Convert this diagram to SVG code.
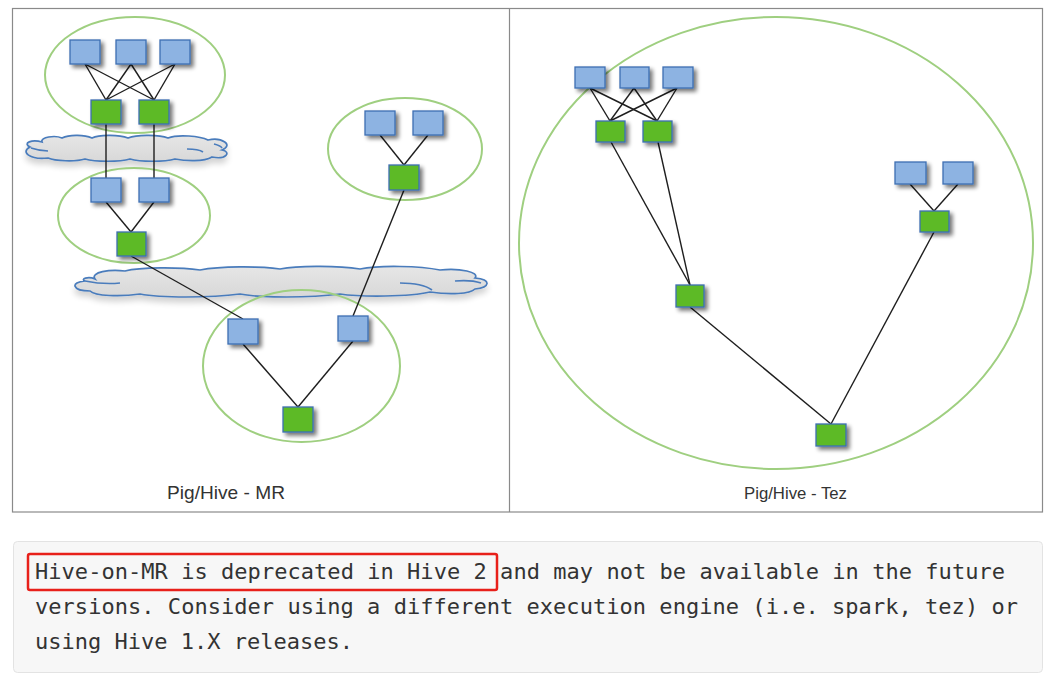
<svg xmlns="http://www.w3.org/2000/svg" width="1061" height="687" viewBox="0 0 1061 687">
<style>
.bg{fill:#ffffff}
.frame{fill:none;stroke:#8a8a8a;stroke-width:1.2}
.blue{fill:#8db3e2;stroke:#3d6fb2;stroke-width:1.3;filter:url(#sh)}
.green{fill:#5dba27;stroke:#3d6fb2;stroke-width:1.3;filter:url(#sh)}
.grp{fill:none;stroke:#9fcf80;stroke-width:2}
.cloud{fill:url(#cg);stroke:#4a7cbc;stroke-width:1.7;filter:url(#csh)}
.cin{fill:none;stroke:#4a7cbc;stroke-width:1.7}
.edge{fill:none;stroke:#1e1e1e;stroke-width:1.4}
.cap{font-family:"Liberation Sans",Arial,Helvetica,sans-serif;fill:#333333}
.note{font-family:"DejaVu Sans Mono","Liberation Mono",monospace;font-size:22px;fill:#333333}
</style>
<defs>
<linearGradient id="cg" x1="0" y1="0" x2="0" y2="1">
<stop offset="0" stop-color="#e6e6e6"/>
<stop offset="1" stop-color="#d8d8d8"/>
</linearGradient>
<filter id="sh" x="-30%" y="-30%" width="160%" height="170%">
<feGaussianBlur in="SourceAlpha" stdDeviation="2"/>
<feOffset dx="3" dy="3" result="o"/>
<feComponentTransfer><feFuncA type="linear" slope="0.55"/></feComponentTransfer>
<feMerge><feMergeNode/><feMergeNode in="SourceGraphic"/></feMerge>
</filter>
<filter id="csh" x="-10%" y="-40%" width="120%" height="200%">
<feGaussianBlur in="SourceAlpha" stdDeviation="3"/>
<feOffset dx="0" dy="5" result="o"/>
<feComponentTransfer><feFuncA type="linear" slope="0.18"/></feComponentTransfer>
<feMerge><feMergeNode/><feMergeNode in="SourceGraphic"/></feMerge>
</filter>
</defs>
<rect class="bg" x="0" y="0" width="1061" height="687"/>

<g id="frame">
<rect class="frame" x="12.5" y="8.5" width="1030" height="503.5"/>
<line class="frame" x1="509.5" y1="8.5" x2="509.5" y2="512"/>
</g>

<g id="clouds">
<g id="cloud1">
<path class="cloud" d="M 42 142 C 40 137, 55 135, 62 138 C 70 134, 85 135, 92 138 C 100 134, 120 135, 128 138 C 138 134, 160 135, 168 138 C 178 134, 200 136, 208 140 C 222 137, 234 145, 222 150 C 232 152, 226 160, 212 157 C 204 162, 185 161, 175 159 C 165 162, 140 162, 130 159 C 120 162, 95 162, 85 159 C 75 162, 55 161, 48 158 C 30 160, 20 152, 30 147 C 22 143, 32 139, 42 142 Z"/>
<path class="cin" d="M 31 148 C 37 150, 43 151, 48 151 M 187 149 C 194 149, 200 150, 203 152 M 214 144 C 218 145, 221 146, 222 148"/>
</g>
<g id="cloud2">
<path class="cloud" d="M 95 279 C 90 272, 110 269, 125 271 C 140 267, 180 267, 200 270 C 220 266, 260 266, 280 269 C 300 265, 340 266, 360 269 C 380 265, 420 266, 440 270 C 460 268, 480 272, 475 278 C 492 279, 490 288, 475 289 C 470 294, 450 295, 430 292 C 410 297, 360 297, 340 294 C 310 298, 260 298, 240 294 C 210 298, 160 298, 140 294 C 120 297, 95 296, 90 291 C 72 291, 70 282, 85 281 C 80 279, 88 276, 95 279 Z"/>
<path class="cin" d="M 85 281 C 95 283, 110 284, 120 283 M 400 283 C 412 283, 425 285, 432 290 M 455 281 C 466 280, 475 281, 481 283"/>
</g>
</g>

<g id="groups">
<ellipse id="mr-stage1" class="grp" cx="135" cy="75" rx="90" ry="58"/>
<ellipse id="mr-stage2" class="grp" cx="134" cy="215.5" rx="76" ry="47.5"/>
<ellipse id="mr-stage3" class="grp" cx="405" cy="149" rx="77" ry="51"/>
<ellipse id="mr-stage4" class="grp" cx="301.5" cy="366" rx="98.5" ry="76"/>
<ellipse id="tez-dag" class="grp" cx="776" cy="243" rx="257" ry="226"/>
</g>

<g id="connectors">
<line class="edge" x1="85" y1="64" x2="106" y2="100"/>
<line class="edge" x1="85" y1="64" x2="154" y2="100"/>
<line class="edge" x1="131" y1="64" x2="106" y2="100"/>
<line class="edge" x1="131" y1="64" x2="154" y2="100"/>
<line class="edge" x1="175" y1="64" x2="106" y2="100"/>
<line class="edge" x1="175" y1="64" x2="154" y2="100"/>
<line class="edge" x1="106" y1="124" x2="106" y2="178"/>
<line class="edge" x1="154" y1="124" x2="154" y2="178"/>
<line class="edge" x1="106" y1="202" x2="131" y2="232"/>
<line class="edge" x1="154" y1="202" x2="131" y2="232"/>
<line class="edge" x1="131" y1="256" x2="243" y2="319"/>
<line class="edge" x1="380" y1="135" x2="404" y2="165"/>
<line class="edge" x1="428" y1="135" x2="404" y2="165"/>
<line class="edge" x1="404" y1="190" x2="353" y2="316"/>
<line class="edge" x1="243" y1="344" x2="298" y2="407"/>
<line class="edge" x1="353" y1="341" x2="298" y2="407"/>

<line class="edge" x1="590" y1="88" x2="610" y2="121"/>
<line class="edge" x1="590" y1="88" x2="657" y2="121"/>
<line class="edge" x1="634" y1="88" x2="610" y2="121"/>
<line class="edge" x1="634" y1="88" x2="657" y2="121"/>
<line class="edge" x1="677" y1="88" x2="610" y2="121"/>
<line class="edge" x1="677" y1="88" x2="657" y2="121"/>
<line class="edge" x1="611" y1="142" x2="690" y2="285"/>
<line class="edge" x1="658" y1="142" x2="690" y2="285"/>
<line class="edge" x1="910" y1="184" x2="934" y2="211"/>
<line class="edge" x1="958" y1="184" x2="934" y2="211"/>
<line class="edge" x1="690" y1="307" x2="831" y2="424"/>
<line class="edge" x1="934" y1="232" x2="831" y2="424"/>
</g>

<g id="mr-b1"><rect class="blue" x="70" y="40" width="30" height="24"/></g>
<g id="mr-b2"><rect class="blue" x="116" y="40" width="30" height="24"/></g>
<g id="mr-b3"><rect class="blue" x="160" y="40" width="30" height="24"/></g>
<g id="mr-g1"><rect class="green" x="91" y="100" width="30" height="24"/></g>
<g id="mr-g2"><rect class="green" x="139" y="100" width="30" height="24"/></g>
<g id="mr-b4"><rect class="blue" x="91" y="178" width="30" height="24"/></g>
<g id="mr-b5"><rect class="blue" x="139" y="178" width="30" height="24"/></g>
<g id="mr-g3"><rect class="green" x="117" y="232" width="29" height="24"/></g>
<g id="mr-b6"><rect class="blue" x="365" y="111" width="30" height="24"/></g>
<g id="mr-b7"><rect class="blue" x="413" y="111" width="30" height="24"/></g>
<g id="mr-g4"><rect class="green" x="389" y="165" width="30" height="25"/></g>
<g id="mr-b8"><rect class="blue" x="228" y="319" width="30" height="25"/></g>
<g id="mr-b9"><rect class="blue" x="338" y="316" width="30" height="25"/></g>
<g id="mr-g5"><rect class="green" x="283" y="407" width="30" height="25"/></g>

<g id="tez-b1"><rect class="blue" x="575" y="67" width="30" height="21"/></g>
<g id="tez-b2"><rect class="blue" x="620" y="67" width="29" height="21"/></g>
<g id="tez-b3"><rect class="blue" x="663" y="67" width="30" height="21"/></g>
<g id="tez-g1"><rect class="green" x="596" y="121" width="29" height="21"/></g>
<g id="tez-g2"><rect class="green" x="643" y="121" width="29" height="21"/></g>
<g id="tez-b4"><rect class="blue" x="895" y="162" width="31" height="22"/></g>
<g id="tez-b5"><rect class="blue" x="943" y="162" width="30" height="22"/></g>
<g id="tez-g3"><rect class="green" x="920" y="211" width="29" height="21"/></g>
<g id="tez-g4"><rect class="green" x="676" y="285" width="28" height="22"/></g>
<g id="tez-g5"><rect class="green" x="816" y="424" width="30" height="22"/></g>

<g id="captions">
<text class="cap" x="167" y="499" font-size="19" textLength="118" lengthAdjust="spacingAndGlyphs">Pig/Hive - MR</text>
<text class="cap" x="744" y="499" font-size="16.5" textLength="103" lengthAdjust="spacingAndGlyphs">Pig/Hive - Tez</text>
</g>

<g id="note">
<rect x="13.5" y="541.5" width="1029" height="131" rx="4" fill="#f7f7f7" stroke="#e3e3e3" stroke-width="1"/>
<rect x="28" y="554" width="469" height="36" rx="2" fill="none" stroke="#e8201a" stroke-width="2.5"/>
<text class="note" x="35" y="579" textLength="970" lengthAdjust="spacing">Hive-on-MR is deprecated in Hive 2 and may not be available in the future</text>
<text class="note" x="35" y="614" textLength="983" lengthAdjust="spacing">versions. Consider using a different execution engine (i.e. spark, tez) or</text>
<text class="note" x="35" y="649">using Hive 1.X releases.</text>
</g>
</svg>
